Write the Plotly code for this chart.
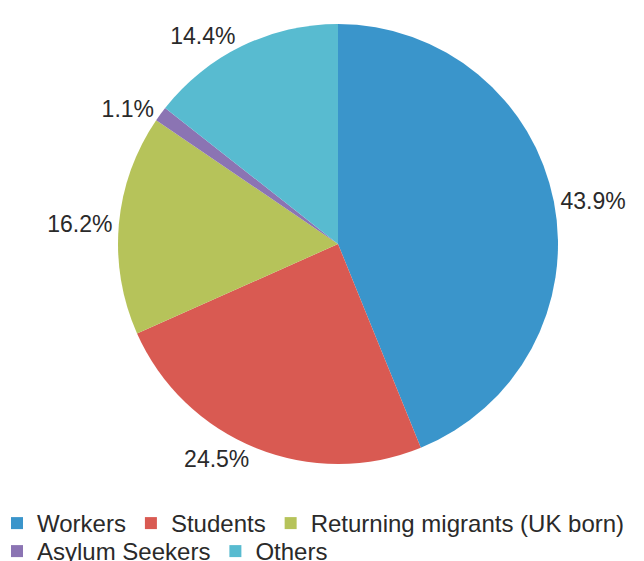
import plotly.graph_objects as go

categories = ["Workers", "Students", "Returning migrants (UK born)", "Asylum Seekers", "Others"]
values = [43.9, 24.5, 16.2, 1.1, 14.4]
colors = ["#3A95CB", "#D95A52", "#B6C35A", "#8B74B3", "#58BBD0"]
legend_rows = ["legend", "legend", "legend", "legend2", "legend2"]

W, H = 644, 561
FONT = "Liberation Sans, Arial, sans-serif"
TXT = "#2a2a2a"

fig = go.Figure()
fig.add_trace(go.Pie(
    labels=categories,
    values=values,
    sort=False,
    direction="clockwise",
    rotation=0,
    marker=dict(colors=colors, line=dict(width=0)),
    texttemplate="%{value:.1f}%",
    textposition="outside",
    textfont=dict(size=23, color=TXT, family=FONT),
    domain=dict(x=[118 / W, 558 / W], y=[0, 1]),
    showlegend=False,
))

# legend entries (two rows, as in the reference)
for name, col, lg in zip(categories, colors, legend_rows):
    fig.add_trace(go.Scatter(
        x=[None], y=[None], mode="markers", name=name,
        marker=dict(symbol="square", size=12, color=col, line=dict(width=0)),
        legend=lg, showlegend=True, hoverinfo="skip",
    ))

plot_bottom = H - 97
leg_common = dict(
    orientation="h", xanchor="left", yanchor="top",
    font=dict(size=24, color=TXT, family=FONT),
    itemclick=False, bgcolor="rgba(0,0,0,0)", borderwidth=0,
)

fig.update_layout(
    width=W, height=H,
    margin=dict(l=0, r=0, t=24, b=97, autoexpand=False),
    paper_bgcolor="white",
    plot_bgcolor="white",
    font=dict(family=FONT, color=TXT),
    xaxis=dict(visible=False),
    yaxis=dict(visible=False),
    showlegend=True,
    legend=dict(x=-3 / W, y=-(501 - plot_bottom) / 440, **leg_common),
    legend2=dict(x=-3 / W, y=-(529 - plot_bottom) / 440, **leg_common),
)

fig.write_html("out.html")
